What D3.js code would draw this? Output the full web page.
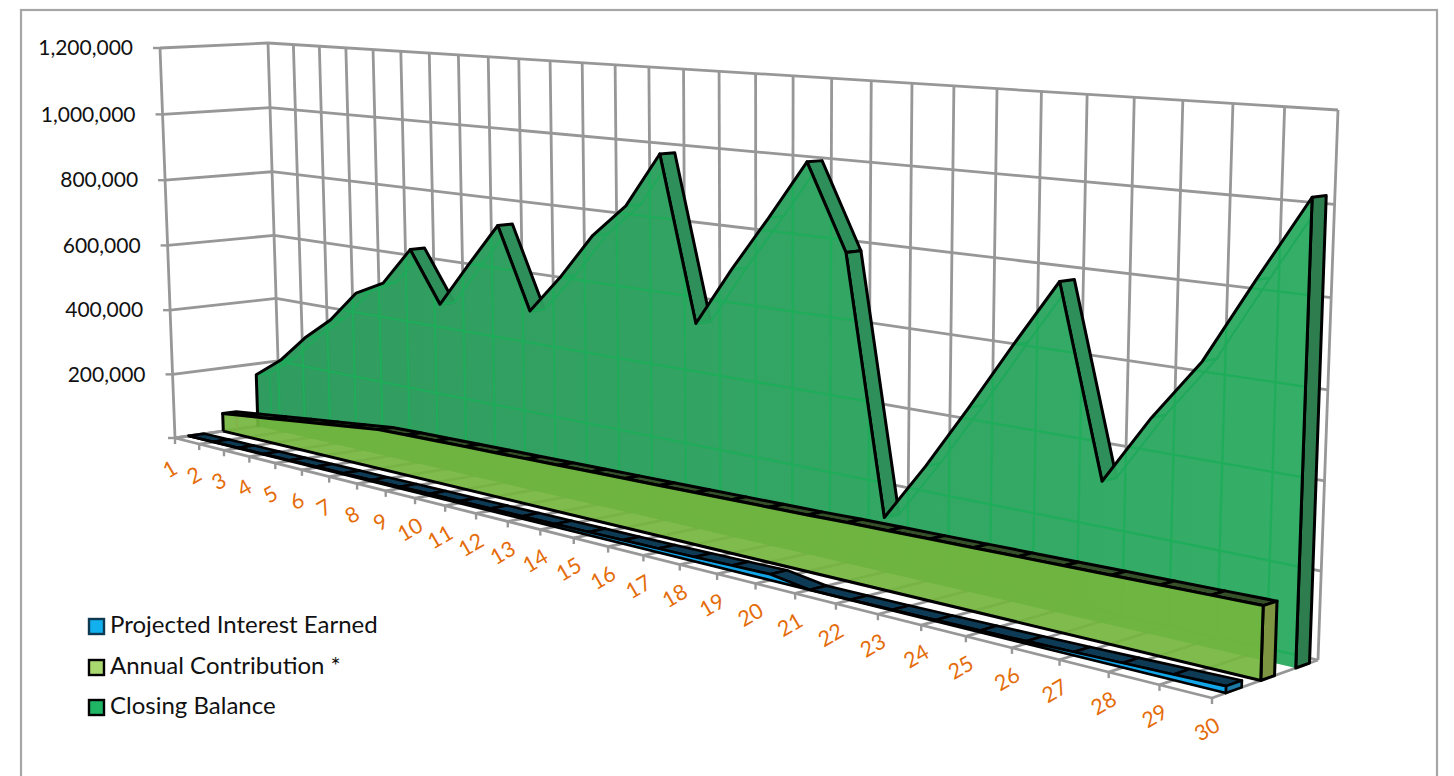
<!DOCTYPE html>
<html><head><meta charset="utf-8"><title>Projected balance</title>
<script src="https://cdn.jsdelivr.net/npm/d3@7"></script>
<style>html,body{margin:0;background:#fff;overflow:hidden}svg{display:block}text{font-family:Lato,"Noto Sans",sans-serif}</style>
</head><body><svg id="chart" width="1454" height="776"></svg>
<script>
// Year labels along the floor of the chart
const categories = ["1","2","3","4","5","6","7","8","9","10","11","12","13","14","15","16","17","18","19","20","21","22","23","24","25","26","27","28","29","30"];
const closingBalance = [165000,227000,313000,383000,479000,522000,634000,487000,614000,738000,510000,620000,745000,835000,982000,548000,703000,847000,997000,783000,138000,287000,448000,615000,777000,331000,496000,640000,833000,1021000];
const annualContribution = [56000,66000,76000,86000,96000,106000,116000,119000,121000,123000,125000,127000,129000,131000,133000,135000,137000,139000,141000,143000,146000,148000,150000,152000,154000,156000,158000,160000,162000,164000];
const interestEarned = [500,900,1300,1800,2300,2900,3400,4000,4600,5200,5800,6400,7000,7700,8400,9200,10200,11300,12800,15000,300,700,1500,2600,4000,5700,7700,9900,12300,15000];
const valueTicks = [0,200000,400000,600000,800000,1000000,1200000];
const legendNames = ["Projected Interest Earned","Annual Contribution *","Closing Balance"];

// Corners of the plot box: front and rear vertical planes (floor-left, floor-right, top-right, top-left)
const frontPlane = [[175,438],[1212,698],[1229,118],[160,48]];
const rearPlane  = [[280,423],[1318,660],[1338,110],[268,43]];

const xScale = d3.scaleLinear().domain([0,categories.length-1]).range([0,1]);
const yScale = d3.scaleLinear().domain([0,1200000]).range([0,1]);
const numberFormat = d3.format(",");

// Homography taking the unit square onto a quad
function homography(q){
  const [p0,p1,p2,p3]=q;
  const dx1=p1[0]-p2[0],dx2=p3[0]-p2[0],sx=p0[0]-p1[0]+p2[0]-p3[0];
  const dy1=p1[1]-p2[1],dy2=p3[1]-p2[1],sy=p0[1]-p1[1]+p2[1]-p3[1];
  const den=dx1*dy2-dx2*dy1,g=(sx*dy2-dx2*sy)/den,h=(dx1*sy-sx*dy1)/den;
  return [p1[0]-p0[0]+g*p1[0],p3[0]-p0[0]+h*p3[0],p0[0],p1[1]-p0[1]+g*p1[1],p3[1]-p0[1]+h*p3[1],p0[1],g,h];
}
const planeCache = new Map();
function planeAt(depth){
  if(!planeCache.has(depth)){
    planeCache.set(depth,homography(frontPlane.map((f,k)=>[f[0]+(rearPlane[k][0]-f[0])*depth,f[1]+(rearPlane[k][1]-f[1])*depth])));
  }
  return planeCache.get(depth);
}
// Category index + value + depth (0 front, 1 rear) to screen position
function project(i,value,depth){
  const [a,b,c,d,e,f,g,h]=planeAt(depth),u=xScale(i),v=yScale(value),w=g*u+h*v+1;
  return [(a*u+b*v+c)/w,(d*u+e*v+f)/w];
}

const svg=d3.select("#chart");
const path=d3.line();
const defs=svg.append("defs");

// The closing balance face gets lighter towards the right
const faceGradient=defs.append("linearGradient").attr("id","closing-face")
  .attr("gradientUnits","userSpaceOnUse").attr("x1",250).attr("x2",1320).attr("y1",0).attr("y2",0);
faceGradient.append("stop").attr("offset",0).attr("stop-color","#2a985a");
faceGradient.append("stop").attr("offset",1).attr("stop-color","#2eac63");

svg.append("rect").attr("x",21).attr("y",10).attr("width",1416).attr("height",790)
  .attr("fill","#fff").attr("stroke","#a6a6a6").attr("stroke-width",2.2);

// Wall and floor grid as a list of segments
const lastIndex=categories.length-1,maxValue=yScale.domain()[1];
const gridSegments=[];
valueTicks.forEach(v=>{
  gridSegments.push([project(0,v,0),project(0,v,1)]);
  gridSegments.push([project(0,v,1),project(lastIndex,v,1)]);
});
categories.forEach((c,i)=>{
  gridSegments.push([project(i,0,1),project(i,maxValue,1)]);
  gridSegments.push([project(i,0,0),project(i,0,1)]);
});
gridSegments.push([project(0,0,0),project(0,maxValue,0)]);
gridSegments.push([project(0,0,0),project(lastIndex,0,0)]);

function drawGrid(g,colour,width){
  g.selectAll("path").data(gridSegments).join("path").attr("d",path)
    .attr("fill","none").attr("stroke",colour).attr("stroke-width",width);
}
drawGrid(svg.append("g"),"#979797",2.8);

// Tick marks
svg.append("g").selectAll("path").data(valueTicks).join("path")
  .attr("d",v=>{const p=project(0,v,0);return path([p,[p[0]-7,p[1]]]);})
  .attr("stroke","#979797").attr("stroke-width",2.4);
svg.append("g").selectAll("path").data(categories).join("path")
  .attr("d",(c,i)=>{const p=project(i,0,0);return path([p,[p[0],p[1]+6]]);})
  .attr("stroke","#979797").attr("stroke-width",2.4);

// Value labels
svg.append("g").selectAll("text").data(valueTicks.filter(v=>v>0)).join("text")
  .attr("x",v=>project(0,v,0)[0]-27).attr("y",v=>project(0,v,0)[1]+2)
  .attr("text-anchor","end").attr("dominant-baseline","middle")
  .attr("font-size",21).attr("fill","#111").text(numberFormat);

// Year labels
svg.append("g").selectAll("text").data(categories).join("text")
  .attr("transform",(c,i)=>{const p=project(i,0,0);return `translate(${p[0]-4},${p[1]+33}) rotate(-30)`;})
  .attr("text-anchor","middle").attr("dominant-baseline","middle")
  .attr("font-size",21.5).attr("fill","#e46c0a").text(c=>c);

// One ribbon per series: rear edge, top strips, end cap, translucent front face
function drawRibbon(id,values,d0,d1,style){
  const g=svg.append("g").attr("id",id);
  const frontTop=values.map((v,i)=>project(i,v,d0));
  const rearTop=values.map((v,i)=>project(i,v,d1));
  const frontBase=values.map((v,i)=>project(i,0,d0));
  const face=[...frontTop,...frontBase.slice().reverse()];
  const strips=d3.range(lastIndex).map(i=>[frontTop[i],frontTop[i+1],rearTop[i+1],rearTop[i]]);
  const hidden=s=>d3.polygonArea(s)<0;

  g.append("g").selectAll("path").data(strips.filter(s=>!hidden(s))).join("path")
    .attr("d",s=>path(s)+"Z").attr("fill",style.strip).attr("stroke","#000")
    .attr("stroke-width",style.edge).attr("stroke-linejoin","round");

  const cap=[frontBase[lastIndex],frontTop[lastIndex],rearTop[lastIndex],project(lastIndex,0,d1)];
  g.append("path").attr("d",path(cap)+"Z").attr("fill",style.cap).attr("stroke","#000")
    .attr("stroke-width",style.edge).attr("stroke-linejoin","round");

  g.append("path").attr("d",path(face)+"Z").attr("fill",style.face).attr("fill-opacity",style.alpha);

  const clipId=id+"-clip";
  defs.append("clipPath").attr("id",clipId).append("path").attr("d",path(face)+"Z");
  const inside=g.append("g").attr("clip-path",`url(#${clipId})`);
  if(style.seen){
    drawGrid(inside.append("g"),style.seen,2);
  }
  inside.append("g").selectAll("path").data(strips.filter(hidden)).join("path")
    .attr("d",s=>path(s)+"Z").attr("fill","none")
    .attr("stroke",style.seenEdge).attr("stroke-width",2);
  inside.append("path").attr("d",path([frontTop[0],rearTop[0],project(0,0,d1)]))
    .attr("fill","none").attr("stroke",style.seenEdge).attr("stroke-width",1.8);

  const outline=style.closeBase
    ? [frontBase[0],...frontTop,frontBase[lastIndex],frontBase[0]]
    : [frontBase[0],...frontTop,frontBase[lastIndex]];
  g.append("path").attr("d",path(outline)).attr("fill","none").attr("stroke","#000")
    .attr("stroke-width",style.edge).attr("stroke-linejoin","round");
}

drawRibbon("closing",closingBalance,0.79,0.92,{
  strip:"#2f8f5a",cap:"#2e7d4f",face:"url(#closing-face)",alpha:0.97,seen:"#1eae5a",seenEdge:"#1fa95a",edge:3,closeBase:false});
drawRibbon("contribution",annualContribution,0.46,0.59,{
  strip:"#36512a",cap:"#7d9440",face:"#74b53e",alpha:0.92,seen:null,seenEdge:"#84b24a",edge:3,closeBase:true});
drawRibbon("interest",interestEarned,0.13,0.28,{
  strip:"#0d3a55",cap:"#1d7ba8",face:"#12a5e8",alpha:1,seen:null,seenEdge:"#0e3f5c",edge:2.6,closeBase:true});

// Legend
const legendFill=["#13b0f0","#a9d96e","#1fb565"];
const legendStroke=["#0d3a52","#000","#000"];
const legendY=[627,668,708];
const legend=svg.append("g").selectAll("g").data(legendNames).join("g")
  .attr("transform",(d,i)=>`translate(89,${legendY[i]})`);
legend.append("rect").attr("x",0).attr("y",-8).attr("width",15).attr("height",15)
  .attr("fill",(d,i)=>legendFill[i]).attr("stroke",(d,i)=>legendStroke[i]).attr("stroke-width",2.4);
legend.append("text").attr("x",21).attr("dominant-baseline","middle")
  .attr("font-size",24).attr("fill","#111").text(d=>d);
</script></body></html>
